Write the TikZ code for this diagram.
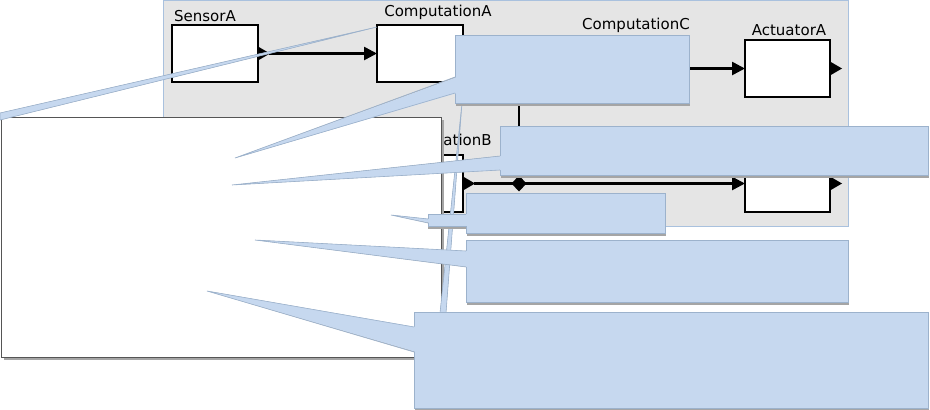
\documentclass[tikz,border=0pt]{standalone}
\usepackage{fontspec}
\setmainfont{DejaVu Sans}
\usetikzlibrary{arrows.meta,shadows}
\definecolor{panelfill}{HTML}{E5E5E5}
\definecolor{panelline}{HTML}{A9C1DE}
\definecolor{cfill}{HTML}{C6D8EF}
\definecolor{cline}{HTML}{9CB2CC}
\definecolor{sgray}{HTML}{A5A5A5}
\definecolor{nline}{HTML}{555555}
\newcommand\wshadow[3]{\fill[sgray,shift={(1pt,-1.6pt)}] (#1) -- (#2) -- (#3) -- cycle;}
\newcommand\wtop[3]{\fill[cfill] (#1) -- ([xshift=2pt]#2) -- ([xshift=2pt]#3) -- cycle;
  \draw[cline,line width=0.6pt] (#2) -- (#1) -- (#3);}
\newcommand\oport[1]{\fill[shift={(#1)}] (0,-7) -- (12,0) -- (0,7) -- cycle;}
\begin{document}
\begin{tikzpicture}[x=1pt,y=-1pt,
  panel/.style={draw=panelline, fill=panelfill, line width=1pt, anchor=north west, inner sep=0, outer sep=0},
  block/.style={draw=black, line width=1.2pt, fill=white, anchor=north west, inner sep=0, outer sep=0, minimum width=86pt, minimum height=57pt},
  lbl/.style={font=\fontsize{15}{18}\selectfont, inner sep=0},
  conn/.style={line width=2.6pt, -{Triangle[length=13pt,width=13pt]}},
  wire/.style={line width=2.6pt},
  note/.style={draw=nline, fill=white, line width=1pt, anchor=north west, inner sep=0, outer sep=0,
    drop shadow={shadow xshift=2.5pt, shadow yshift=-2.5pt, fill=sgray, opacity=1}},
  callout/.style={draw=cline, fill=cfill, line width=0.8pt, anchor=north west, inner sep=0, outer sep=0,
    drop shadow={shadow xshift=1pt, shadow yshift=-2.5pt, fill=sgray, opacity=1}},
  thinwedge/.style={fill=cfill, draw=cline, line width=0.6pt}
]
\useasboundingbox (0,0) rectangle (930,410);
% model panel
\node[panel, minimum width=685pt, minimum height=226pt] (panel) at (163,0) {};
% blocks
\node[block] (sensA) at (172,25) {};
\node[block] (compA) at (377,25) {};
\node[block] (compC) at (590,40) {};
\node[block, minimum width=85pt] (actA) at (745,40) {};
\node[block] (compB) at (377,155) {};
\node[block, minimum width=85pt] (actB) at (745,155) {};
% labels
\node[lbl] (lsA) at (205,16) {SensorA};
\node[lbl] (lcA) at (438,12) {ComputationA};
\node[lbl] (lcC) at (636,25) {ComputationC};
\node[lbl] (laA) at (789,30) {ActuatorA};
\node[lbl] (lcB) at (438,141) {ComputationB};
% connectors
\draw[conn] ([xshift=11pt]sensA.east) -- (compA.west);
\draw[conn] ([xshift=11pt]compC.east) -- (actA.west);
\draw[conn] ([xshift=11pt]compB.east) -- (actB.west);
\path (compB.east) ++(56,0) coordinate (junc);
\draw[wire] (junc) |- (compC.west);
\fill[shift={(junc)}] (0,-8) -- (7.5,0) -- (0,8) -- (-7.5,0) -- cycle;
\oport{sensA.east}
\oport{compC.east}
\oport{actA.east}
\oport{compB.east}
\oport{actB.east}
% white note
\node[note, minimum width=440pt, minimum height=240pt] (note) at (1,117) {};
% thin wedges
\coordinate (t1tip) at (377,27);
\coordinate (t1a) at (0,113);
\coordinate (t1b) at (0,120);
\fill[sgray,shift={(1pt,-1.5pt)}] (t1tip) -- (t1a) -- (t1b) -- cycle;
\path[thinwedge] (t1tip) -- (t1a) -- (t1b) -- cycle;
\coordinate (t2tip) at (462,103);
\coordinate (t2a) at (440,313);
\coordinate (t2b) at (446,313);
\fill[sgray,shift={(1pt,-1pt)}] (t2tip) -- (t2a) -- (t2b) -- cycle;
\path[thinwedge] (t2tip) -- (t2a) -- (t2b) -- cycle;
% callout C
\coordinate (cCt) at (235,158);
\coordinate (cCa) at (455,77);
\coordinate (cCb) at (455,93);
\wshadow{cCt}{cCa}{cCb}
\node[callout, minimum width=234pt, minimum height=68pt] (calC) at (455,35) {};
\wtop{cCt}{cCa}{cCb}
% callout B
\coordinate (cBt) at (232,185);
\coordinate (cBa) at (500,156);
\coordinate (cBb) at (500,170);
\wshadow{cBt}{cBa}{cBb}
\node[callout, minimum width=428pt, minimum height=49pt] (calB) at (500,126) {};
\wtop{cBt}{cBa}{cBb}
% callout S (small)
\coordinate (cSt) at (391,215);
\coordinate (cSa) at (428,219);
\coordinate (cSb) at (428,223);
\fill[sgray] (428,217) rectangle (468,228.5);
\wshadow{cSt}{cSa}{cSb}
\node[callout, minimum width=199pt, minimum height=40pt] (calS) at (466,193) {};
\fill[cfill] (428,214) rectangle (468,226);
\draw[cline,line width=0.6pt] (466,214) -- (428,214) -- (428,226) -- (466,226);
\wtop{cSt}{cSa}{cSb}
% callout D
\coordinate (cDt) at (255,240);
\coordinate (cDa) at (466,251);
\coordinate (cDb) at (466,267);
\wshadow{cDt}{cDa}{cDb}
\node[callout, minimum width=382pt, minimum height=62pt] (calD) at (466,240) {};
\wtop{cDt}{cDa}{cDb}
% callout E
\coordinate (cEt) at (207,291);
\coordinate (cEa) at (414,327);
\coordinate (cEb) at (414,352);
\wshadow{cEt}{cEa}{cEb}
\node[callout, minimum width=514pt, minimum height=96pt] (calE) at (414,312) {};
\wtop{cEt}{cEa}{cEb}
\end{tikzpicture}
\end{document}
